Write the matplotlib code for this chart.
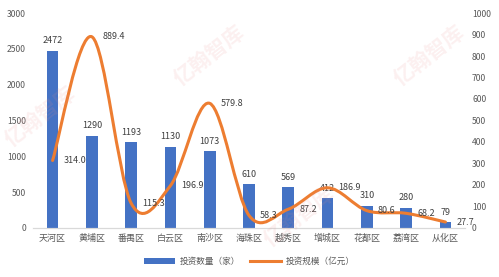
import matplotlib
matplotlib.use("Agg")
import matplotlib.pyplot as plt
import numpy as np
from matplotlib.path import Path
from matplotlib.patches import PathPatch
from matplotlib.lines import Line2D
from matplotlib.patches import Patch

plt.rcParams['font.family'] = ['Noto Sans CJK SC', 'DejaVu Sans']

districts = ["天河区", "黄埔区", "番禺区", "白云区", "南沙区", "海珠区",
             "越秀区", "增城区", "花都区", "荔湾区", "从化区"]
counts = [2472, 1290, 1193, 1130, 1073, 610, 569, 412, 310, 280, 79]
scale = [314.0, 889.4, 115.3, 196.9, 579.8, 58.3, 87.2, 186.9, 80.6, 68.2, 27.7]

bar_color = "#4472C4"
line_color = "#ED7D31"
text_color = "#595959"


def smooth_path(xs, ys):
    # Catmull-Rom through the points, written as cubic Bezier segments
    pts = np.column_stack([xs, ys]).astype(float)
    verts = [pts[0]]
    codes = [Path.MOVETO]
    n = len(pts)
    for i in range(n - 1):
        p0 = pts[i - 1] if i > 0 else pts[i]
        p1 = pts[i]
        p2 = pts[i + 1]
        p3 = pts[i + 2] if i + 2 < n else pts[i + 1]
        c1 = p1 + (p2 - p0) / 6.0
        c2 = p2 - (p3 - p1) / 6.0
        verts += [c1, c2, p2]
        codes += [Path.CURVE4] * 3
    return Path(verts, codes)


fig = plt.figure(figsize=(4.99, 2.77), dpi=100)
ax = fig.add_axes([0.066, 0.177, 0.866, 0.776])
ax2 = ax.twinx()

# watermark (light, behind everything)
for wx, wy in [(0.42, 0.80), (0.86, 0.80), (0.08, 0.58), (0.60, 0.22)]:
    fig.text(wx, wy, "亿翰智库", fontsize=15, color="#E88A8A", alpha=0.13,
             rotation=38, ha="center", va="center", fontweight="bold", zorder=0)

x = np.arange(len(districts))
ax.bar(x, counts, width=0.3, color=bar_color, zorder=2)
ax.set_xlim(-0.5, len(districts) - 0.5)
ax.set_ylim(0, 3000)
ax.set_yticks(range(0, 3001, 500))
ax2.set_ylim(0, 1000)
ax2.set_yticks(range(0, 1001, 100))

ax.set_xticks(x)
ax.set_xticklabels(districts, fontsize=6.5, color=text_color)
ax.tick_params(axis="x", length=0, pad=4)
ax.tick_params(axis="y", length=0, labelsize=6.2, labelcolor=text_color, pad=5)
ax2.tick_params(axis="y", length=0, labelsize=6.2, labelcolor=text_color, pad=5)

for a in (ax, ax2):
    a.patch.set_visible(False)
    for s in ("top", "left", "right"):
        a.spines[s].set_visible(False)
    a.spines["bottom"].set_color("#D9D9D9")
    a.spines["bottom"].set_linewidth(0.8)

for xi, c in zip(x, counts):
    ax.annotate(str(c), (xi, c), xytext=(0, 4), textcoords="offset points",
                ha="center", va="bottom", fontsize=6.5, color="#404040")

ax2.add_patch(PathPatch(smooth_path(x, scale), fill=False, edgecolor=line_color,
                        linewidth=2.2, capstyle="round", joinstyle="round", zorder=3))
for xi, v in zip(x, scale):
    ax2.annotate(f"{v:.1f}", (xi, v), xytext=(8, 0), textcoords="offset points",
                 ha="left", va="center", fontsize=6.5, color="#404040", zorder=4)

handles = [Patch(facecolor=bar_color), Line2D([0], [0], color=line_color, linewidth=2.2)]
fig.legend(handles, ["投资数量（家）", "投资规模（亿元）"], loc="center",
           bbox_to_anchor=(0.5, 0.055), ncol=2, frameon=False, fontsize=6.2,
           labelcolor=text_color, handlelength=3.6, handleheight=0.6,
           columnspacing=1.2, handletextpad=0.5)

fig.savefig("out.png", dpi=100)
